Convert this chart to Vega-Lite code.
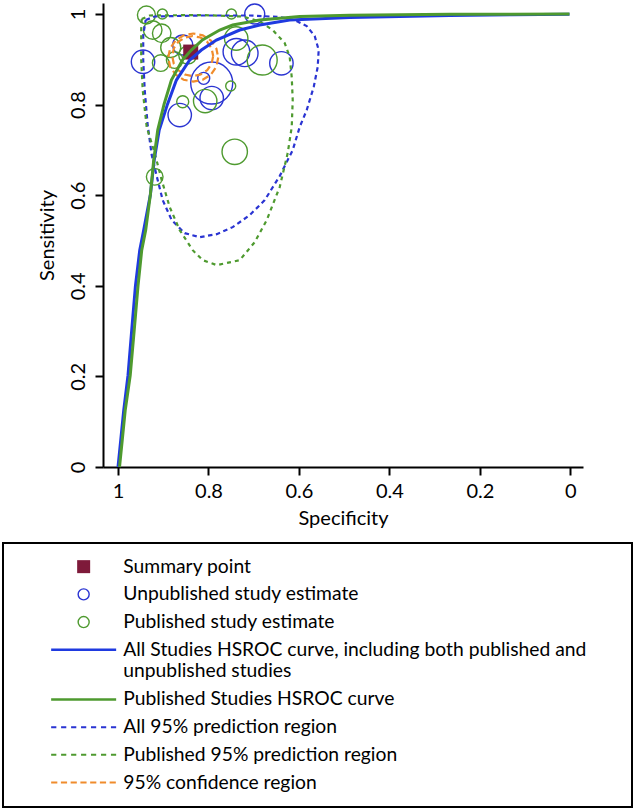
{
  "$schema": "https://vega.github.io/schema/vega-lite/v6.json",
  "width": 480,
  "height": 464,
  "autosize": {"type": "none"},
  "padding": {"left": 103, "top": 3, "right": 53, "bottom": 343},
  "background": "white",
  "datasets": {
    "studies": [
      {"series": "Unpublished study estimate", "spec": 0.9447, "sens": 0.8946, "weight": 137},
      {"series": "Unpublished study estimate", "spec": 0.8636, "sens": 0.7769, "weight": 137},
      {"series": "Unpublished study estimate", "spec": 0.8106, "sens": 0.858, "weight": 36},
      {"series": "Unpublished study estimate", "spec": 0.7929, "sens": 0.8476, "weight": 441},
      {"series": "Unpublished study estimate", "spec": 0.7929, "sens": 0.8145, "weight": 137},
      {"series": "Unpublished study estimate", "spec": 0.6978, "sens": 1.0, "weight": 100},
      {"series": "Unpublished study estimate", "spec": 0.7383, "sens": 0.9167, "weight": 177},
      {"series": "Unpublished study estimate", "spec": 0.7199, "sens": 0.9132, "weight": 177},
      {"series": "Unpublished study estimate", "spec": 0.6388, "sens": 0.8911, "weight": 137},
      {"series": "Unpublished study estimate", "spec": 0.857, "sens": 0.9315, "weight": 100},
      {"series": "Published study estimate", "spec": 0.9372, "sens": 0.9978, "weight": 81},
      {"series": "Published study estimate", "spec": 0.9019, "sens": 1.0, "weight": 25},
      {"series": "Published study estimate", "spec": 0.7493, "sens": 1.0, "weight": 25},
      {"series": "Published study estimate", "spec": 0.9233, "sens": 0.9647, "weight": 86},
      {"series": "Published study estimate", "spec": 0.9034, "sens": 0.9574, "weight": 86},
      {"series": "Published study estimate", "spec": 0.8835, "sens": 0.926, "weight": 100},
      {"series": "Published study estimate", "spec": 0.9056, "sens": 0.8918, "weight": 69},
      {"series": "Published study estimate", "spec": 0.8747, "sens": 0.8984, "weight": 69},
      {"series": "Published study estimate", "spec": 0.857, "sens": 0.8063, "weight": 36},
      {"series": "Published study estimate", "spec": 0.8073, "sens": 0.8078, "weight": 137},
      {"series": "Published study estimate", "spec": 0.7509, "sens": 0.841, "weight": 25},
      {"series": "Published study estimate", "spec": 0.7387, "sens": 0.9459, "weight": 137},
      {"series": "Published study estimate", "spec": 0.6813, "sens": 0.8984, "weight": 225},
      {"series": "Published study estimate", "spec": 0.742, "sens": 0.6958, "weight": 161},
      {"series": "Published study estimate", "spec": 0.9189, "sens": 0.6406, "weight": 69},
      {"series": "Published study estimate", "spec": 0.8459, "sens": 0.9094, "weight": 81}
    ],
    "summary": [
      {"series": "Summary point", "spec": 0.8393, "sens": 0.916}
    ],
    "curves": [
      {"series": "All Studies HSROC curve, including both published and unpublished studies", "spec": 1.0, "sens": 0},
      {"series": "All Studies HSROC curve, including both published and unpublished studies", "spec": 0.994, "sens": 0.059},
      {"series": "All Studies HSROC curve, including both published and unpublished studies", "spec": 0.9874, "sens": 0.125},
      {"series": "All Studies HSROC curve, including both published and unpublished studies", "spec": 0.9779, "sens": 0.2026},
      {"series": "All Studies HSROC curve, including both published and unpublished studies", "spec": 0.9697, "sens": 0.302},
      {"series": "All Studies HSROC curve, including both published and unpublished studies", "spec": 0.9615, "sens": 0.4},
      {"series": "All Studies HSROC curve, including both published and unpublished studies", "spec": 0.952, "sens": 0.4787},
      {"series": "All Studies HSROC curve, including both published and unpublished studies", "spec": 0.9432, "sens": 0.5229},
      {"series": "All Studies HSROC curve, including both published and unpublished studies", "spec": 0.9284, "sens": 0.6017},
      {"series": "All Studies HSROC curve, including both published and unpublished studies", "spec": 0.92, "sens": 0.6775},
      {"series": "All Studies HSROC curve, including both published and unpublished studies", "spec": 0.9089, "sens": 0.7438},
      {"series": "All Studies HSROC curve, including both published and unpublished studies", "spec": 0.8908, "sens": 0.8005},
      {"series": "All Studies HSROC curve, including both published and unpublished studies", "spec": 0.8709, "sens": 0.8542},
      {"series": "All Studies HSROC curve, including both published and unpublished studies", "spec": 0.8415, "sens": 0.8984},
      {"series": "All Studies HSROC curve, including both published and unpublished studies", "spec": 0.8157, "sens": 0.9205},
      {"series": "All Studies HSROC curve, including both published and unpublished studies", "spec": 0.7825, "sens": 0.9426},
      {"series": "All Studies HSROC curve, including both published and unpublished studies", "spec": 0.731, "sens": 0.9647},
      {"series": "All Studies HSROC curve, including both published and unpublished studies", "spec": 0.6868, "sens": 0.9757},
      {"series": "All Studies HSROC curve, including both published and unpublished studies", "spec": 0.6205, "sens": 0.9867},
      {"series": "All Studies HSROC curve, including both published and unpublished studies", "spec": 0.4878, "sens": 0.9923},
      {"series": "All Studies HSROC curve, including both published and unpublished studies", "spec": 0.3773, "sens": 0.9945},
      {"series": "All Studies HSROC curve, including both published and unpublished studies", "spec": 0.2668, "sens": 0.9967},
      {"series": "All Studies HSROC curve, including both published and unpublished studies", "spec": 0.13, "sens": 0.9985},
      {"series": "All Studies HSROC curve, including both published and unpublished studies", "spec": 0.002, "sens": 0.9995},
      {"series": "Published Studies HSROC curve", "spec": 0.9967, "sens": 0},
      {"series": "Published Studies HSROC curve", "spec": 0.9907, "sens": 0.059},
      {"series": "Published Studies HSROC curve", "spec": 0.9841, "sens": 0.125},
      {"series": "Published Studies HSROC curve", "spec": 0.973, "sens": 0.2026},
      {"series": "Published Studies HSROC curve", "spec": 0.9642, "sens": 0.302},
      {"series": "Published Studies HSROC curve", "spec": 0.9558, "sens": 0.4},
      {"series": "Published Studies HSROC curve", "spec": 0.9476, "sens": 0.4787},
      {"series": "Published Studies HSROC curve", "spec": 0.9388, "sens": 0.5229},
      {"series": "Published Studies HSROC curve", "spec": 0.9284, "sens": 0.6017},
      {"series": "Published Studies HSROC curve", "spec": 0.9211, "sens": 0.6775},
      {"series": "Published Studies HSROC curve", "spec": 0.9122, "sens": 0.7438},
      {"series": "Published Studies HSROC curve", "spec": 0.8983, "sens": 0.8005},
      {"series": "Published Studies HSROC curve", "spec": 0.882, "sens": 0.8542},
      {"series": "Published Studies HSROC curve", "spec": 0.8576, "sens": 0.8984},
      {"series": "Published Studies HSROC curve", "spec": 0.8378, "sens": 0.9205},
      {"series": "Published Studies HSROC curve", "spec": 0.8134, "sens": 0.9426},
      {"series": "Published Studies HSROC curve", "spec": 0.7752, "sens": 0.9647},
      {"series": "Published Studies HSROC curve", "spec": 0.7465, "sens": 0.9757},
      {"series": "Published Studies HSROC curve", "spec": 0.6868, "sens": 0.9867},
      {"series": "Published Studies HSROC curve", "spec": 0.5984, "sens": 0.9945},
      {"series": "Published Studies HSROC curve", "spec": 0.4878, "sens": 0.997},
      {"series": "Published Studies HSROC curve", "spec": 0.3773, "sens": 0.9985},
      {"series": "Published Studies HSROC curve", "spec": 0.2668, "sens": 0.9992},
      {"series": "Published Studies HSROC curve", "spec": 0.13, "sens": 0.9997},
      {"series": "Published Studies HSROC curve", "spec": 0.002, "sens": 1.0}
    ],
    "regions": [
      {"series": "All 95% prediction region", "grp": "p1", "spec": 0.9388, "sens": 0.9867},
      {"series": "All 95% prediction region", "grp": "p1", "spec": 0.9189, "sens": 0.9945},
      {"series": "All 95% prediction region", "grp": "p1", "spec": 0.8194, "sens": 0.9967},
      {"series": "All 95% prediction region", "grp": "p1", "spec": 0.7089, "sens": 0.9967},
      {"series": "All 95% prediction region", "grp": "p1", "spec": 0.6426, "sens": 0.9934},
      {"series": "All 95% prediction region", "grp": "p1", "spec": 0.6094, "sens": 0.9867},
      {"series": "All 95% prediction region", "grp": "p1", "spec": 0.5829, "sens": 0.9735},
      {"series": "All 95% prediction region", "grp": "p1", "spec": 0.5652, "sens": 0.9514},
      {"series": "All 95% prediction region", "grp": "p1", "spec": 0.5564, "sens": 0.9205},
      {"series": "All 95% prediction region", "grp": "p1", "spec": 0.5586, "sens": 0.8829},
      {"series": "All 95% prediction region", "grp": "p1", "spec": 0.5674, "sens": 0.8388},
      {"series": "All 95% prediction region", "grp": "p1", "spec": 0.5829, "sens": 0.7879},
      {"series": "All 95% prediction region", "grp": "p1", "spec": 0.5984, "sens": 0.7504},
      {"series": "All 95% prediction region", "grp": "p1", "spec": 0.6138, "sens": 0.6996},
      {"series": "All 95% prediction region", "grp": "p1", "spec": 0.6426, "sens": 0.6422},
      {"series": "All 95% prediction region", "grp": "p1", "spec": 0.6757, "sens": 0.5891},
      {"series": "All 95% prediction region", "grp": "p1", "spec": 0.7089, "sens": 0.556},
      {"series": "All 95% prediction region", "grp": "p1", "spec": 0.7465, "sens": 0.5295},
      {"series": "All 95% prediction region", "grp": "p1", "spec": 0.7818, "sens": 0.514},
      {"series": "All 95% prediction region", "grp": "p1", "spec": 0.8194, "sens": 0.5074},
      {"series": "All 95% prediction region", "grp": "p1", "spec": 0.8526, "sens": 0.5162},
      {"series": "All 95% prediction region", "grp": "p1", "spec": 0.8813, "sens": 0.545},
      {"series": "All 95% prediction region", "grp": "p1", "spec": 0.9012, "sens": 0.5891},
      {"series": "All 95% prediction region", "grp": "p1", "spec": 0.9145, "sens": 0.6422},
      {"series": "All 95% prediction region", "grp": "p1", "spec": 0.9255, "sens": 0.6886},
      {"series": "All 95% prediction region", "grp": "p1", "spec": 0.9344, "sens": 0.7548},
      {"series": "All 95% prediction region", "grp": "p1", "spec": 0.941, "sens": 0.8321},
      {"series": "All 95% prediction region", "grp": "p1", "spec": 0.9443, "sens": 0.8984},
      {"series": "All 95% prediction region", "grp": "p1", "spec": 0.9443, "sens": 0.9536},
      {"series": "All 95% prediction region", "grp": "p1", "spec": 0.9388, "sens": 0.9867},
      {"series": "Published 95% prediction region", "grp": "p2", "spec": 0.9476, "sens": 0.989},
      {"series": "Published 95% prediction region", "grp": "p2", "spec": 0.9299, "sens": 0.9967},
      {"series": "Published 95% prediction region", "grp": "p2", "spec": 0.8194, "sens": 0.9978},
      {"series": "Published 95% prediction region", "grp": "p2", "spec": 0.7244, "sens": 0.9945},
      {"series": "Published 95% prediction region", "grp": "p2", "spec": 0.6868, "sens": 0.9834},
      {"series": "Published 95% prediction region", "grp": "p2", "spec": 0.658, "sens": 0.9647},
      {"series": "Published 95% prediction region", "grp": "p2", "spec": 0.6315, "sens": 0.9359},
      {"series": "Published 95% prediction region", "grp": "p2", "spec": 0.6205, "sens": 0.905},
      {"series": "Published 95% prediction region", "grp": "p2", "spec": 0.616, "sens": 0.8609},
      {"series": "Published 95% prediction region", "grp": "p2", "spec": 0.6138, "sens": 0.81},
      {"series": "Published 95% prediction region", "grp": "p2", "spec": 0.616, "sens": 0.7504},
      {"series": "Published 95% prediction region", "grp": "p2", "spec": 0.6249, "sens": 0.693},
      {"series": "Published 95% prediction region", "grp": "p2", "spec": 0.6426, "sens": 0.6179},
      {"series": "Published 95% prediction region", "grp": "p2", "spec": 0.6713, "sens": 0.545},
      {"series": "Published 95% prediction region", "grp": "p2", "spec": 0.6978, "sens": 0.4964},
      {"series": "Published 95% prediction region", "grp": "p2", "spec": 0.731, "sens": 0.4566},
      {"series": "Published 95% prediction region", "grp": "p2", "spec": 0.7818, "sens": 0.4456},
      {"series": "Published 95% prediction region", "grp": "p2", "spec": 0.8128, "sens": 0.4566},
      {"series": "Published 95% prediction region", "grp": "p2", "spec": 0.8349, "sens": 0.4787},
      {"series": "Published 95% prediction region", "grp": "p2", "spec": 0.8636, "sens": 0.5229},
      {"series": "Published 95% prediction region", "grp": "p2", "spec": 0.8857, "sens": 0.5737},
      {"series": "Published 95% prediction region", "grp": "p2", "spec": 0.9034, "sens": 0.6333},
      {"series": "Published 95% prediction region", "grp": "p2", "spec": 0.9189, "sens": 0.693},
      {"series": "Published 95% prediction region", "grp": "p2", "spec": 0.9366, "sens": 0.7504},
      {"series": "Published 95% prediction region", "grp": "p2", "spec": 0.9454, "sens": 0.8321},
      {"series": "Published 95% prediction region", "grp": "p2", "spec": 0.9487, "sens": 0.8984},
      {"series": "Published 95% prediction region", "grp": "p2", "spec": 0.9487, "sens": 0.9647},
      {"series": "Published 95% prediction region", "grp": "p2", "spec": 0.9476, "sens": 0.989},
      {"series": "95% confidence region", "grp": "c1", "spec": 0.7785, "sens": 0.9039},
      {"series": "95% confidence region", "grp": "c1", "spec": 0.7827, "sens": 0.8836},
      {"series": "95% confidence region", "grp": "c1", "spec": 0.7947, "sens": 0.8664},
      {"series": "95% confidence region", "grp": "c1", "spec": 0.8126, "sens": 0.8549},
      {"series": "95% confidence region", "grp": "c1", "spec": 0.8338, "sens": 0.8509},
      {"series": "95% confidence region", "grp": "c1", "spec": 0.855, "sens": 0.8549},
      {"series": "95% confidence region", "grp": "c1", "spec": 0.8729, "sens": 0.8664},
      {"series": "95% confidence region", "grp": "c1", "spec": 0.8848, "sens": 0.8836},
      {"series": "95% confidence region", "grp": "c1", "spec": 0.889, "sens": 0.9039},
      {"series": "95% confidence region", "grp": "c1", "spec": 0.8848, "sens": 0.9242},
      {"series": "95% confidence region", "grp": "c1", "spec": 0.8729, "sens": 0.9415},
      {"series": "95% confidence region", "grp": "c1", "spec": 0.855, "sens": 0.953},
      {"series": "95% confidence region", "grp": "c1", "spec": 0.8338, "sens": 0.9569},
      {"series": "95% confidence region", "grp": "c1", "spec": 0.8126, "sens": 0.953},
      {"series": "95% confidence region", "grp": "c1", "spec": 0.7947, "sens": 0.9415},
      {"series": "95% confidence region", "grp": "c1", "spec": 0.7827, "sens": 0.9242},
      {"series": "95% confidence region", "grp": "c1", "spec": 0.7785, "sens": 0.9039},
      {"series": "95% confidence region", "grp": "c2", "spec": 0.7896, "sens": 0.9072},
      {"series": "95% confidence region", "grp": "c2", "spec": 0.7931, "sens": 0.8902},
      {"series": "95% confidence region", "grp": "c2", "spec": 0.8028, "sens": 0.8761},
      {"series": "95% confidence region", "grp": "c2", "spec": 0.8174, "sens": 0.8664},
      {"series": "95% confidence region", "grp": "c2", "spec": 0.8349, "sens": 0.863},
      {"series": "95% confidence region", "grp": "c2", "spec": 0.8523, "sens": 0.8664},
      {"series": "95% confidence region", "grp": "c2", "spec": 0.8669, "sens": 0.8761},
      {"series": "95% confidence region", "grp": "c2", "spec": 0.8767, "sens": 0.8902},
      {"series": "95% confidence region", "grp": "c2", "spec": 0.8802, "sens": 0.9072},
      {"series": "95% confidence region", "grp": "c2", "spec": 0.8767, "sens": 0.9242},
      {"series": "95% confidence region", "grp": "c2", "spec": 0.8669, "sens": 0.9384},
      {"series": "95% confidence region", "grp": "c2", "spec": 0.8523, "sens": 0.9481},
      {"series": "95% confidence region", "grp": "c2", "spec": 0.8349, "sens": 0.9514},
      {"series": "95% confidence region", "grp": "c2", "spec": 0.8174, "sens": 0.9481},
      {"series": "95% confidence region", "grp": "c2", "spec": 0.8028, "sens": 0.9384},
      {"series": "95% confidence region", "grp": "c2", "spec": 0.7931, "sens": 0.9242},
      {"series": "95% confidence region", "grp": "c2", "spec": 0.7896, "sens": 0.9072}
    ]
  },
  "layer": [
    {
      "data": {"name": "studies"},
      "mark": {"type": "point", "filled": true, "opacity": 1},
      "encoding": {
        "x": {"field": "spec", "type": "quantitative", "title": "Specificity",
          "scale": {"domain": [-0.0279, 1.0332], "reverse": true, "nice": false, "zero": false},
          "axis": {"values": [0, 0.2, 0.4, 0.6, 0.8, 1], "format": "~g", "labelPadding": 6, "titlePadding": 7}},
        "y": {"field": "sens", "type": "quantitative", "title": "Sensitivity",
          "scale": {"domain": [0, 1.0243], "nice": false, "zero": false},
          "axis": {"values": [0, 0.2, 0.4, 0.6, 0.8, 1], "format": "~g", "labelAngle": -90, "labelPadding": 7, "titlePadding": 11}},
        "shape": {"field": "series", "type": "nominal",
          "scale": {"domain": ["Summary point", "Unpublished study estimate", "Published study estimate", "All Studies HSROC curve, including both published and unpublished studies", "Published Studies HSROC curve", "All 95% prediction region", "Published 95% prediction region", "95% confidence region"],
            "range": ["square", "M0.85,0A0.85,0.85,0,1,1,-0.85,0A0.85,0.85,0,1,1,0.85,0Z", "M0.85,0A0.85,0.85,0,1,1,-0.85,0A0.85,0.85,0,1,1,0.85,0Z", "M-5,0H5", "M-5,0H5", "M-5,0H-4.2M-3.47,0H-2.67M-1.93,0H-1.13M-0.4,0H0.4M1.13,0H1.93M2.67,0H3.47M4.2,0H5", "M-5,0H-4.2M-3.47,0H-2.67M-1.93,0H-1.13M-0.4,0H0.4M1.13,0H1.93M2.67,0H3.47M4.2,0H5", "M-5,0H-4.05M-3.5,0H-2.55M-2,0H-1.05M-0.5,0H0.45M1,0H1.95M2.5,0H3.45M4,0H4.95"]},
          "legend": {"orient": "none", "legendX": -100, "legendY": 540, "title": " ", "titleOrient": "right", "titleFontSize": 1, "titlePadding": 32, "padding": 14, "rowPadding": 7.7, "symbolSize": 169, "symbolOffset": 57, "labelOffset": 30, "labelFont": "Lato", "labelFontSize": 19.3, "labelLimit": 800, "labelColor": "black", "strokeColor": "black",
            "labelExpr": "datum.value == 'All Studies HSROC curve, including both published and unpublished studies' ? ['All Studies HSROC curve, including both published and', 'unpublished studies'] : datum.label"}},
        "fill": {"field": "series", "type": "nominal",
          "scale": {"domain": ["Summary point", "Unpublished study estimate", "Published study estimate", "All Studies HSROC curve, including both published and unpublished studies", "Published Studies HSROC curve", "All 95% prediction region", "Published 95% prediction region", "95% confidence region"],
            "range": ["#7e1a3a", "transparent", "transparent", "transparent", "transparent", "transparent", "transparent", "transparent"]},
          "legend": {"orient": "none", "legendX": -100, "legendY": 540, "title": " ", "titleOrient": "right", "titleFontSize": 1, "titlePadding": 32, "padding": 14, "rowPadding": 7.7, "symbolSize": 169, "symbolOffset": 57, "labelOffset": 30, "labelFont": "Lato", "labelFontSize": 19.3, "labelLimit": 800, "labelColor": "black", "strokeColor": "black",
            "labelExpr": "datum.value == 'All Studies HSROC curve, including both published and unpublished studies' ? ['All Studies HSROC curve, including both published and', 'unpublished studies'] : datum.label"}},
        "stroke": {"field": "series", "type": "nominal",
          "scale": {"domain": ["Summary point", "Unpublished study estimate", "Published study estimate", "All Studies HSROC curve, including both published and unpublished studies", "Published Studies HSROC curve", "All 95% prediction region", "Published 95% prediction region", "95% confidence region"],
            "range": ["#7e1a3a", "#2a34d2", "#4e9a2f", "#1f3ae0", "#4e9a2f", "#2a34d2", "#4e9a2f", "#f08c2c"]},
          "legend": {"orient": "none", "legendX": -100, "legendY": 540, "title": " ", "titleOrient": "right", "titleFontSize": 1, "titlePadding": 32, "padding": 14, "rowPadding": 7.7, "symbolSize": 169, "symbolOffset": 57, "labelOffset": 30, "labelFont": "Lato", "labelFontSize": 19.3, "labelLimit": 800, "labelColor": "black", "strokeColor": "black",
            "labelExpr": "datum.value == 'All Studies HSROC curve, including both published and unpublished studies' ? ['All Studies HSROC curve, including both published and', 'unpublished studies'] : datum.label"}},
        "strokeWidth": {"field": "series", "type": "nominal",
          "scale": {"type": "ordinal", "domain": ["Summary point", "Unpublished study estimate", "Published study estimate", "All Studies HSROC curve, including both published and unpublished studies", "Published Studies HSROC curve", "All 95% prediction region", "Published 95% prediction region", "95% confidence region"],
            "range": [0, 1.4, 1.4, 2.6, 2.6, 2, 2, 2]},
          "legend": {"orient": "none", "legendX": -100, "legendY": 540, "title": " ", "titleOrient": "right", "titleFontSize": 1, "titlePadding": 32, "padding": 14, "rowPadding": 7.7, "symbolSize": 169, "symbolOffset": 57, "labelOffset": 30, "labelFont": "Lato", "labelFontSize": 19.3, "labelLimit": 800, "labelColor": "black", "strokeColor": "black",
            "labelExpr": "datum.value == 'All Studies HSROC curve, including both published and unpublished studies' ? ['All Studies HSROC curve, including both published and', 'unpublished studies'] : datum.label"}},
        "size": {"field": "weight", "type": "quantitative", "scale": {"domain": [0, 500], "range": [0, 2768]}, "legend": null}
      }
    },
    {
      "data": {"name": "summary"},
      "mark": {"type": "square", "size": 225, "color": "#7e1a3a", "opacity": 1},
      "encoding": {
        "x": {"field": "spec", "type": "quantitative"},
        "y": {"field": "sens", "type": "quantitative"}
      }
    },
    {
      "data": {"name": "regions"},
      "mark": {"type": "line", "strokeWidth": 2.2},
      "encoding": {
        "x": {"field": "spec", "type": "quantitative"},
        "y": {"field": "sens", "type": "quantitative"},
        "detail": {"field": "grp", "type": "nominal"},
        "order": {"value": null},
        "color": {"field": "series", "type": "nominal",
          "scale": {"domain": ["All Studies HSROC curve, including both published and unpublished studies", "Published Studies HSROC curve", "All 95% prediction region", "Published 95% prediction region", "95% confidence region"],
            "range": ["#1f3ae0", "#4e9a2f", "#2a34d2", "#4e9a2f", "#f08c2c"]},
          "legend": null},
        "strokeDash": {"field": "series", "type": "nominal",
          "scale": {"domain": ["All 95% prediction region", "Published 95% prediction region", "95% confidence region"], "range": [[4.5, 3.5], [4, 4], [7, 4]]},
          "legend": null}
      }
    },
    {
      "data": {"name": "curves"},
      "mark": {"type": "line", "strokeWidth": 3},
      "encoding": {
        "x": {"field": "spec", "type": "quantitative"},
        "y": {"field": "sens", "type": "quantitative"},
        "order": {"value": null},
        "color": {"field": "series", "type": "nominal",
          "scale": {"domain": ["All Studies HSROC curve, including both published and unpublished studies", "Published Studies HSROC curve", "All 95% prediction region", "Published 95% prediction region", "95% confidence region"],
            "range": ["#1f3ae0", "#4e9a2f", "#2a34d2", "#4e9a2f", "#f08c2c"]},
          "legend": null}
      }
    }
  ],
  "config": {
    "view": {"stroke": null},
    "font": "Lato",
    "axis": {"grid": false, "domainColor": "black", "domainWidth": 2, "tickColor": "black", "tickWidth": 2, "tickSize": 8, "labelFont": "Lato", "labelFontSize": 20, "labelColor": "black", "titleFont": "Lato", "titleFontSize": 20, "titleFontWeight": "normal", "titleColor": "black", "labelFlush": false, "labelOverlap": false},
    "legend": {"strokeWidth": 2}
  }
}
